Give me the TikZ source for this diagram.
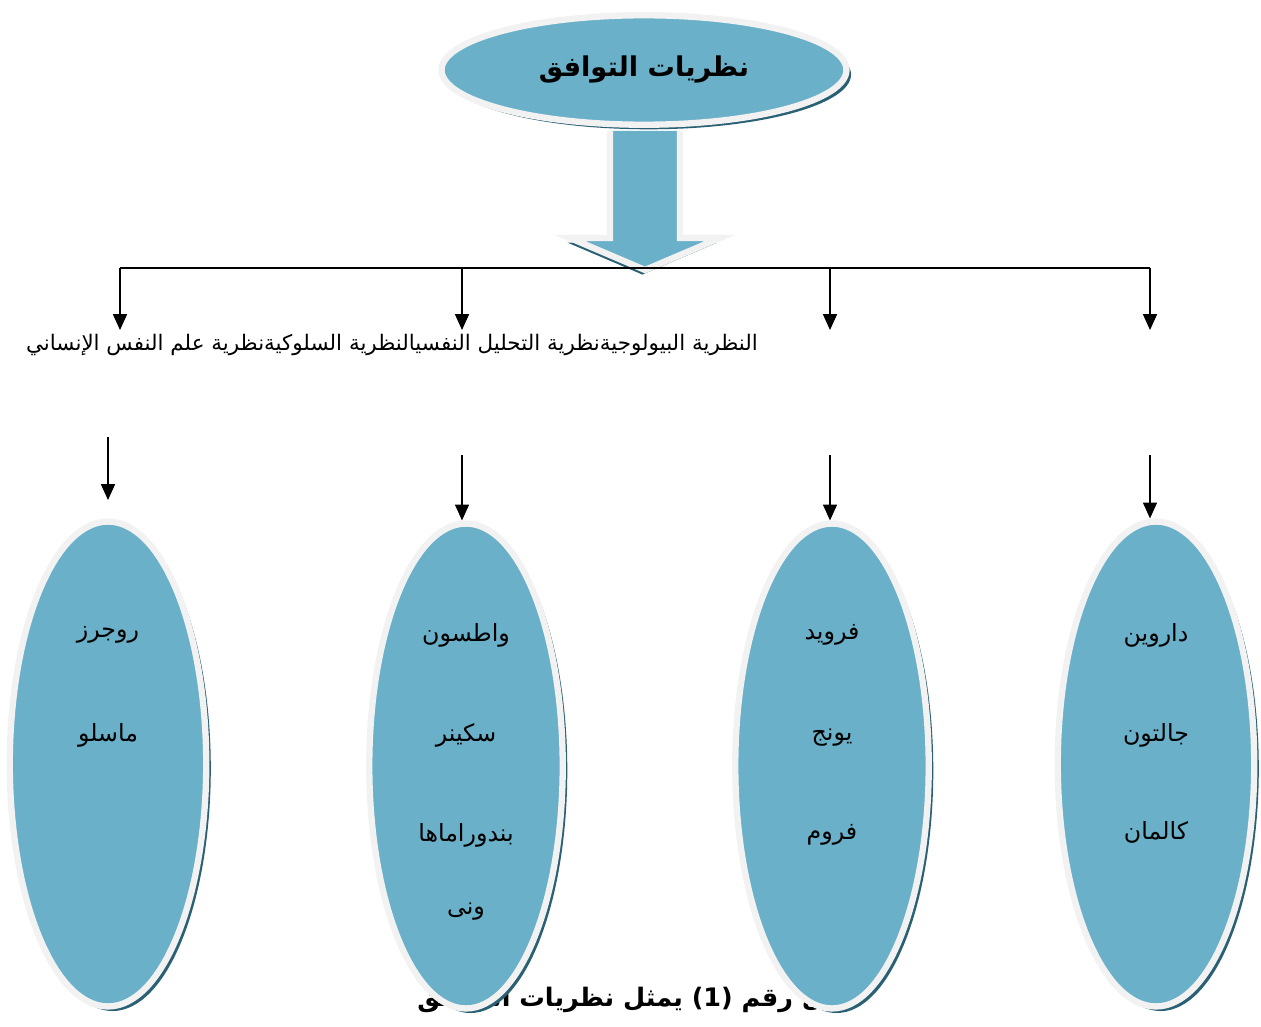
\documentclass[tikz,border=0pt]{standalone}
\usepackage{fontspec}
\newfontfamily\arabicfont[Script=Arabic]{DejaVu Sans}
\TeXXeTstate=1
\usetikzlibrary{shapes.geometric,arrows.meta,shadows,positioning,calc}
\definecolor{tealfill}{RGB}{106,176,201}
\definecolor{rimgray}{RGB}{242,242,242}
\definecolor{tealshadow}{RGB}{42,96,116}
\tikzset{
  bubble/.style={ellipse, draw=rimgray, fill=tealfill, line width=3.6pt, inner sep=0pt,
                 drop shadow={shadow xshift=2.6pt, shadow yshift=-2.6pt,
                              fill=tealshadow, opacity=1}},
  bigarrow/.style={draw=rimgray, fill=tealfill, line width=3.6pt, line join=miter,
                   drop shadow={shadow xshift=-1.5pt, shadow yshift=-2.6pt,
                                fill=tealshadow, opacity=1}},
  downtip/.style={-{Triangle[length=9pt,width=8pt]}, semithick},
  atext/.style={font=\arabicfont\fontsize{12.2}{14}\selectfont},
  nametext/.style={font=\arabicfont\fontsize{13.5}{15}\selectfont},
  boldtext/.style={font=\arabicfont\bfseries\fontsize{#1}{#1}\selectfont},
}
\begin{document}
\begin{tikzpicture}[x=0.02cm, y=-0.02cm]
  \useasboundingbox (0,0) rectangle (1261,1027);

  % Title and big arrow
  \node[bubble, minimum width=8.1cm, minimum height=2.19cm] (title) at (644,70) {};
  \node[boldtext=15.5] at (title.center) {\beginR نظريات التوافق\endR};
  \draw[bigarrow] (610,131) -- (610,238) -- (570,238) -- (645,270)
                  -- (720,238) -- (680,238) -- (680,131);

  % Bus and first arrows
  \coordinate (b1) at (120,268);
  \coordinate (b2) at (462,268);
  \coordinate (b3) at (830,268);
  \coordinate (b4) at (1150,268);
  \draw[semithick] (b1) -- (b4);
  \foreach \i in {1,...,4}{
    \coordinate (h\i) at ($(b\i)+(0,62)$);
    \draw[downtip] (b\i) -- (h\i);
  }
  \node[atext, anchor=east] (kinds) at (764,345)
    {\beginR النظرية البيولوجيةنظرية التحليل النفسيالنظرية السلوكيةنظرية علم النفس الإنساني\endR};

  % Caption (behind the ellipses)
  \node[boldtext=14.5] (caption) at (641,1000) {\beginR شكل رقم \beginL(1)\endL{} يمثل نظريات التوافق\endR};

  % Ellipses
  \node[bubble, minimum width=3.93cm, minimum height=9.7cm] (e1) at (108,764) {};
  \node[bubble, minimum width=3.87cm, minimum height=9.7cm] (e2) at (466,766) {};
  \node[bubble, minimum width=3.87cm, minimum height=9.7cm] (e3) at (832,766) {};
  \node[bubble, minimum width=3.93cm, minimum height=9.7cm] (e4) at (1156,764) {};

  % Second arrows
  \coordinate (u1) at (108,437);
  \coordinate (v1) at (108,500);
  \draw[downtip] (u1) -- (v1);
  \foreach \i/\x in {2/462,3/830,4/1150}{
    \coordinate (u\i) at (\x,455);
    \draw[downtip] (u\i) -- (u\i |- e\i.north);
  }

  % Names
  \foreach \x/\y/\t in {108/635/روجرز, 108/735/ماسلو,
                        466/635/واطسون, 466/735/سكينر, 466/835/بندوراماها, 466/912/ونى,
                        832/635/فرويد, 832/738/يونج, 832/835/فروم,
                        1156/635/داروين, 1156/735/جالتون, 1156/832/كالمان}
    \node[nametext] at (\x,\y) {\beginR\t\endR};
\end{tikzpicture}
\end{document}
